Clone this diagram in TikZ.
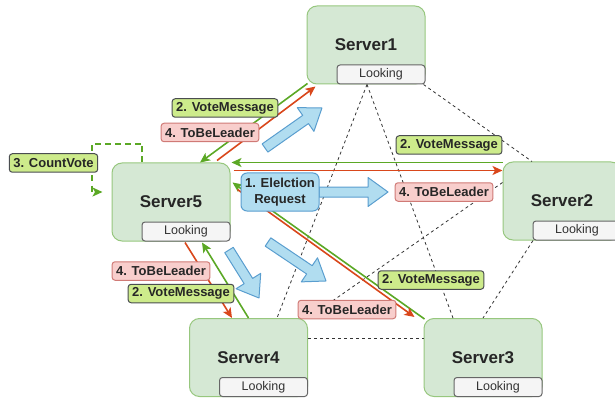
\documentclass[tikz,border=0pt]{standalone}
\usepackage{fontspec}
\setmainfont{Liberation Sans}
\usetikzlibrary{arrows.meta}
\definecolor{srvfill}{HTML}{D5E8D4}
\definecolor{srvdraw}{HTML}{97C77E}
\definecolor{lkfill}{HTML}{F5F5F5}
\definecolor{lkdraw}{HTML}{666666}
\definecolor{lktext}{HTML}{333333}
\definecolor{grn}{HTML}{5BA825}
\definecolor{red2}{HTML}{D9471B}
\definecolor{votefill}{HTML}{CDEB8B}
\definecolor{votedraw}{HTML}{4A4D50}
\definecolor{leadfill}{HTML}{F8CECC}
\definecolor{leaddraw}{HTML}{D07A76}
\definecolor{bluefill}{HTML}{B1DDF0}
\definecolor{bluedraw}{HTML}{5A9ECF}
\newcommand\fatarrow[3]{%
  \begin{scope}[shift={#1},rotate=#2]
    \draw[fat] (0,-5) -- ({#3-20},-5) -- ({#3-20},-14.5) -- (#3,0) -- ({#3-20},14.5) -- ({#3-20},5) -- (0,5) -- cycle;
  \end{scope}}
\tikzset{
  server/.style={draw=srvdraw, fill=srvfill, rounded corners=10pt, minimum width=118pt, minimum height=78pt, line width=1pt, font=\fontsize{17}{19}\selectfont\bfseries, text=black!85},
  looking/.style={draw=lkdraw, fill=lkfill, rounded corners=3pt, minimum width=88pt, minimum height=19pt, inner sep=0pt, line width=1pt, font=\fontsize{12.5}{14}\selectfont, text=lktext, anchor=south east},
  mesh/.style={draw=black!80, line width=0.8pt, dash pattern=on 3pt off 3pt},
  tip/.style={-{Stealth[length=10pt,width=9pt,inset=2.5pt]}},
  garr/.style={draw=grn, line width=1.6pt, tip},
  rarr/.style={draw=red2, line width=1.6pt, tip},
  cvarr/.style={draw=grn, line width=1.6pt, dash pattern=on 6pt off 4pt, tip},
  fat/.style={draw=bluedraw, fill=bluefill, line width=1pt, line join=round},
  lab/.style={rounded corners=3pt, line width=1pt, inner xsep=4pt, inner ysep=0pt, minimum height=18.5pt, font=\fontsize{13}{15}\selectfont\bfseries, text=black!85},
  vote/.style={lab, draw=votedraw, fill=votefill},
  lead/.style={lab, draw=leaddraw, fill=leadfill},
  elect/.style={lab, draw=bluedraw, fill=bluefill, rounded corners=6pt, minimum width=78pt, minimum height=38pt, align=center, font=\fontsize{13}{16}\selectfont\bfseries}
}
\begin{document}
\begin{tikzpicture}[x=1pt,y=1pt]
\useasboundingbox (0,0) rectangle (615,-398);
\clip (0,0) rectangle (615,-398);
% servers
\node[server] (s1) at (366,-45) {Server1};
\node[server] (s2) at (562,-201) {Server2};
\node[server] (s3) at (483,-357.5) {Server3};
\node[server] (s4) at (248.5,-357.5) {Server4};
\node[server] (s5) at (171,-202) {Server5};
\node[looking] (l1) at (s1.south east) {Looking};
\node[looking] (l2) at (s2.south east) {Looking};
\node[looking] (l3) at (s3.south east) {Looking};
\node[looking] (l4) at (s4.south east) {Looking};
\node[looking] (l5) at (s5.south east) {Looking};
% mesh
\draw[mesh] ([xshift=1pt]s1.south) -- ([xshift=28.5pt]s4.north);
\draw[mesh] ([xshift=1pt]s1.south) -- ([xshift=-30pt]s3.north);
\draw[mesh] ([xshift=-2pt]s1.south east) -- ([xshift=-30pt]s2.north);
\draw[mesh] ([yshift=-21pt]s2.north west) -- (s4.north east);
\draw[mesh] ([xshift=-29pt]s2.south) -- (s3.north);
\draw[mesh] ([yshift=19.5pt]s4.east) -- ([yshift=19.5pt]s3.west);
% connectors
\draw[garr] ([xshift=1pt,yshift=1pt]s1.south west) -- ([xshift=29pt]s5.north);
\draw[rarr] ([xshift=46pt,yshift=2pt]s5.north) -- ([xshift=9pt,yshift=-2pt]s1.south west);
\draw[garr] ([yshift=-1pt]s2.north west) -- ([xshift=1pt]s5.north east);
\draw[rarr] ([xshift=3pt,yshift=-8pt]s5.north east) -- ([yshift=-9pt]s2.north west);
\draw[garr] ([xshift=1pt,yshift=-1pt]s3.north west) -- ([xshift=2pt,yshift=-20pt]s5.north east);
\draw[rarr] ([xshift=7pt,yshift=-27pt]s5.north east) -- ([xshift=-9pt,yshift=1pt]s3.north west);
\draw[rarr] ([xshift=14pt,yshift=-1pt]s5.south) -- ([xshift=-16.5pt]s4.north);
\draw[garr] (s4.north) -- ([xshift=31pt,yshift=-1pt]s5.south);
\coordinate (cvA) at (92,-144);
\draw[cvarr] ([xshift=-29pt]s5.north) |- (cvA) |- ([xshift=-9pt,yshift=10pt]s5.west);
% fat arrows
\fatarrow{(265,-148)}{35.1}{69.6}
\fatarrow{(319,-192)}{0}{69}
\fatarrow{(268,-242)}{-33.9}{69.9}
\fatarrow{(229,-250)}{-58}{56.6}
% labels
\node[vote] (lv1) at (225,-108) {2. VoteMessage};
\node[lead] (lt1) at (210,-132.5) {4. ToBeLeader};
\node[vote] (lv2) at (449,-145) {2. VoteMessage};
\node[lead] (lt2) at (444,-192) {4. ToBeLeader};
\node[vote] (lv3) at (431,-280) {2. VoteMessage};
\node[lead] (lt3) at (347,-309.5) {4. ToBeLeader};
\node[lead] (lt4) at (161,-271) {4. ToBeLeader};
\node[vote] (lv4) at (181,-293.5) {2. VoteMessage};
\node[vote] (lcv) at (53.5,-163) {3. CountVote};
\node[elect] (el) at (280,-192) {1. Elelction\\Request};
\end{tikzpicture}
\end{document}
